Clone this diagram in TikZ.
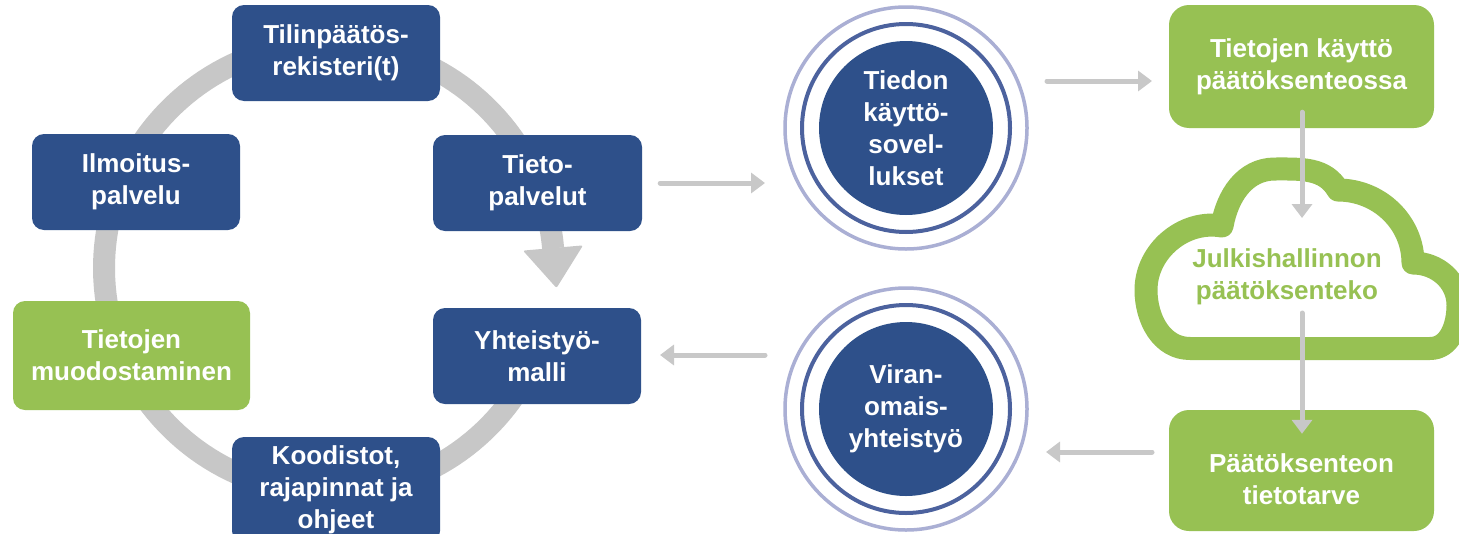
\documentclass[tikz,border=0pt]{standalone}
\usepackage{fontspec}
\setmainfont{Liberation Sans}
\usetikzlibrary{arrows.meta,calc}
\definecolor{dblue}{RGB}{46,80,138}
\definecolor{lgreen}{RGB}{151,193,83}
\definecolor{ringgray}{RGB}{199,199,199}
\definecolor{arrgray}{RGB}{200,200,200}
\definecolor{lav}{RGB}{170,175,212}
\definecolor{ringblue}{RGB}{76,98,158}
\newcommand\txtfont{\fontsize{26}{32}\selectfont\bfseries}
\begin{document}
\begin{tikzpicture}[x=1pt,y=-1pt,
  bbox/.style={rounded corners=12pt, fill=dblue, text=white, minimum width=208pt,
    minimum height=96pt, align=center, inner sep=0pt, font=\txtfont},
  gbox/.style={rounded corners=20pt, fill=lgreen, text=white, minimum width=265pt,
    minimum height=122pt, align=center, inner sep=0pt, font=\txtfont},
  dcirc/.style={circle, fill=dblue, text=white, minimum size=174pt, inner sep=0pt,
    align=center, font=\txtfont},
  garrow/.style={draw=arrgray, line width=5pt, line cap=round,
    -{Triangle[length=14pt,width=20pt]}}]
\useasboundingbox (0,0) rectangle (1459,533);
\clip (0,0) rectangle (1459,533);
\fill[white] (0,0) rectangle (1459,533);

% ring with arrow
\draw[ringgray, line width=22pt] plot[domain=30:355,samples=160] ({329+225*cos(\x)},{268+225*sin(\x)});
\fill[ringgray, rounded corners=2pt] (523,250.6) -- (583,245.4) -- (556.5,288) -- cycle;

% left boxes
\node[bbox] (tp) at (336,53) {Tilinpäätös-\\rekisteri(t)};
\node[bbox] (il) at (136,182) {Ilmoitus-\\palvelu};
\node[bbox, minimum width=209pt] (tps) at (537.5,183) {Tieto-\\palvelut};
\node[bbox, fill=lgreen, minimum width=237pt, minimum height=109pt] (tm) at (131.5,355.5) {Tietojen\\muodostaminen};
\node[bbox] (ym) at (537,356) {Yhteistyö-\\malli};
\node[bbox, minimum height=106pt] (ko) at (336,490) {Koodistot,\\rajapinnat ja\\ohjeet};

% circles
\node[dcirc] (c1) at (906,128) {Tiedon\\käyttö-\\sovel-\\lukset};
\draw[lav, line width=3.5pt] (c1.center) circle[radius=121pt];
\draw[ringblue, line width=4pt] (c1.center) circle[radius=104pt];
\node[dcirc] (c2) at (906,409) {Viran-\\omais-\\yhteistyö};
\draw[lav, line width=3.5pt] (c2.center) circle[radius=121pt];
\draw[ringblue, line width=4pt] (c2.center) circle[radius=104pt];

% right green boxes
\node[gbox, minimum height=123pt] (use) at (1301.5,66.5) {Tietojen käyttö\\päätöksenteossa};
\node[gbox, minimum height=121pt] (need) at (1301.5,470.5) {};
\node[text=white, font=\txtfont, align=center, inner sep=0pt] (needtxt) at (1301.5,479) {Päätöksenteon\\tietotarve};

% cloud
\draw[lgreen, line width=23pt, line join=round, fill=white]
  (1190,348.5) to[out=180,in=-90] (1146,290) to[out=90,in=170] (1222,226)
  to[out=80,in=180] (1275,169) to[out=0,in=120] (1338,190)
  to[out=0,in=90] (1413,263) to[out=0,in=90] (1458,305)
  to[out=-90,in=0] (1430,348.5) -- cycle;
\node[text=lgreen, font=\txtfont, align=center, inner sep=0pt] (jd) at (1287,277) {Julkishallinnon\\päätöksenteko};

% arrows
\coordinate (a1e) at (765,183);
\coordinate (a2e) at (660,355);
\coordinate (a2s) at (765,355);
\coordinate (a3s) at (1047,81);
\coordinate (a3e) at (1152,81);
\coordinate (a4s) at (1152,452);
\coordinate (a4e) at (1046,452);
\coordinate (v1e) at (1302,218);
\coordinate (v2s) at (1302,313);
\draw[garrow, shorten <=18pt] (tps.east) -- (a1e);
\draw[garrow] (a2s) -- (a2e);
\draw[garrow] (a3s) -- (a3e);
\draw[garrow] (a4s) -- (a4e);
\draw[garrow] ($(use.south)+(0.5,-16)$) -- (v1e);
\draw[garrow] (v2s) -- ($(need.north)+(0.5,24)$);
\end{tikzpicture}
\end{document}
